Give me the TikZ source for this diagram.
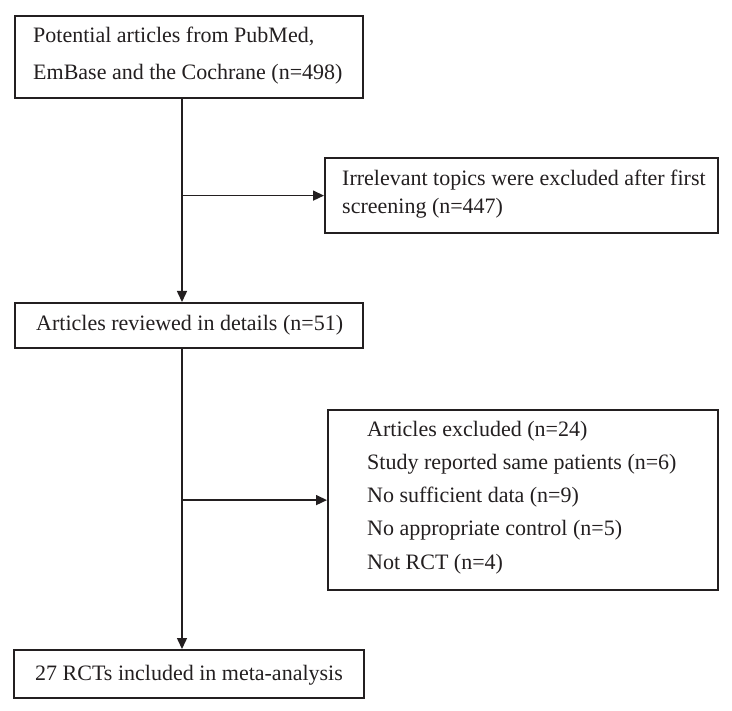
\documentclass[tikz,border=0pt]{standalone}
\usepackage{fontspec}
\setmainfont{Liberation Serif}
\usetikzlibrary{arrows.meta}
\definecolor{ink}{HTML}{231F20}
\tikzset{
  box/.style={draw=ink, line width=2.2pt, rectangle, inner sep=0pt, anchor=north west},
  txt/.style={anchor=base west, inner sep=0pt, text=ink, font=\fontsize{22pt}{26pt}\selectfont},
  conn/.style={draw=ink, line width=1.5pt},
  arr/.style={conn, -{Triangle[length=11pt,width=10pt]}}
}
\begin{document}
\begin{tikzpicture}[x=1pt,y=1pt]
\useasboundingbox[fill=white] (0,0) rectangle (732,-711);
% boxes
\node[box, minimum width=348pt, minimum height=82pt] (b1) at (14,-15) {};
\node[box, minimum width=393pt, minimum height=75pt] (b2) at (324,-157) {};
\node[box, minimum width=348pt, minimum height=45pt] (b3) at (14,-302) {};
\node[box, minimum width=390pt, minimum height=180pt] (b4) at (327,-409) {};
\node[box, minimum width=350pt, minimum height=48pt] (b5) at (13,-649) {};
% texts
\node[txt] (t1a) at (33,-43) {Potential articles from PubMed,};
\node[txt] (t1b) at (33,-80) {EmBase and the Cochrane (n=498)};
\node[txt] (t2a) at (342,-186) {Irrelevant topics were excluded after first};
\node[txt] (t2b) at (342,-214) {screening (n=447)};
\node[txt] (t3) at (36,-331) {Articles reviewed in details (n=51)};
\node[txt] (t4a) at (367,-437) {Articles excluded (n=24)};
\node[txt] (t4b) at (367,-470) {Study reported same patients (n=6)};
\node[txt] (t4c) at (367,-503) {No sufficient data (n=9)};
\node[txt] (t4d) at (367,-536) {No appropriate control (n=5)};
\node[txt] (t4e) at (367,-569) {Not RCT (n=4)};
\node[txt] (t5) at (35,-680) {27 RCTs included in meta-analysis};
% spine
\coordinate (spine) at (182,0);
\draw[arr] (b1.south -| spine) -- (b3.north -| spine);
\draw[arr] (b2.west -| spine) -- (b2.west);
\draw[arr] (b3.south -| spine) -- (b5.north -| spine);
\draw[arr] (b4.west -| spine) -- (b4.west);
\end{tikzpicture}
\end{document}
